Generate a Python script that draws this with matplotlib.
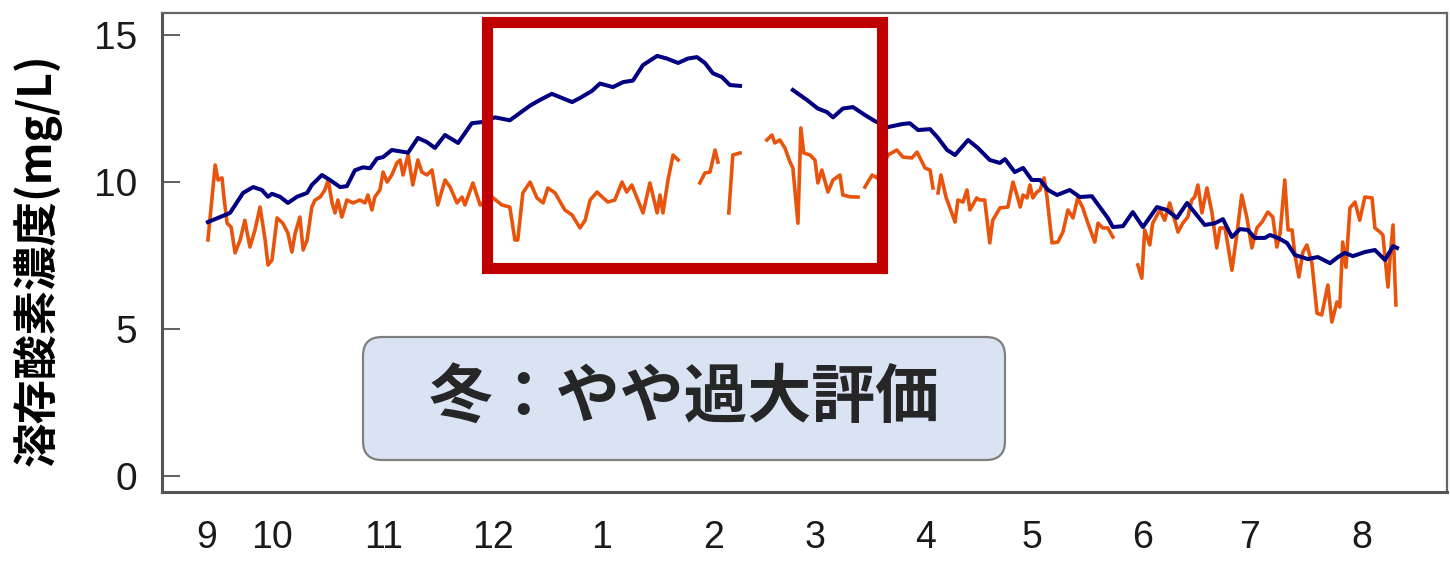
import numpy as np
import matplotlib
matplotlib.use("Agg")
import matplotlib.pyplot as plt
from matplotlib.patches import Rectangle, FancyBboxPatch

plt.rcParams['font.family'] = ['Liberation Sans', 'Noto Sans CJK JP', 'DejaVu Sans']

# days counted from 1 Sep; None marks a break in the record
blue_day = [12.3, 18.4, 22.0, 24.8, 27.2, 28.9, 30.0, 32.2, 34.4, 36.9, 39.7, 41.0, 43.8,
            46.0, 48.8, 50.7, 52.9, 55.1, 57.1, 59.0, 60.7, 63.1, 67.6, 70.3, 72.8, 75.0,
            77.8, 81.4, 85.2, 88.0, 91.6, 95.7, 101.3, 104.0, 107.3, 110.1, 112.9, 115.1,
            118.4, 120.6, 124.2, 127.0, 129.7, 132.5, 136.4, 139.1, 142.2, 144.9, 147.4,
            149.6, 151.8, 154.3, 156.5, 159.3, None,
            173.9, 177.8, 180.8, 183.3, 185.0, 187.7, 190.5, 193.8, 196.6, 200.2, 204.0,
            206.2, 208.5, 211.8, 214.0, 216.5, 218.7, 222.3, 225.0, 228.3, 231.1, 232.5,
            235.2, 237.5, 239.9, 242.2, 244.4, 246.9, 250.4, 253.2, 256.5, 258.7, 260.9,
            262.3, 265.1, 267.8, 270.6, 274.5, 277.2, 280.0, 282.8, 285.0, 287.7, 290.5,
            292.7, 295.2, 297.4, 299.6, 301.5, 304.3, 305.7, 307.9, 310.4, 312.6, 316.2,
            318.9, 322.3, 324.5, 326.4, 328.6, 331.9, 334.7, 337.5, 339.7, 340.8]
blue_do = [8.64, 8.95, 9.63, 9.83, 9.73, 9.5, 9.6, 9.5, 9.29, 9.5, 9.63, 9.9, 10.24,
           10.07, 9.83, 9.86, 10.4, 10.5, 10.47, 10.8, 10.85, 11.09, 11.0, 11.5, 11.36, 11.16,
           11.6, 11.33, 12.0, 12.04, 12.2, 12.1, 12.6, 12.79, 13.0, 12.86, 12.72, 12.86,
           13.1, 13.35, 13.23, 13.4, 13.45, 13.98, 14.29, 14.2, 14.05, 14.2, 14.25,
           14.05, 13.7, 13.57, 13.3, 13.27, None,
           13.13, 12.79, 12.5, 12.38, 12.2, 12.5, 12.55, 12.28, 12.07, 11.87, 11.97,
           12.0, 11.77, 11.8, 11.5, 11.09, 10.92, 11.43, 11.16, 10.75, 10.65, 10.78,
           10.34, 10.48, 10.07, 10.07, 9.73, 9.56, 9.73, 9.49, 9.52, 9.15, 8.78,
           8.47, 8.5, 8.98, 8.47, 9.15, 9.05, 8.78, 9.29, 8.95, 8.54, 8.6,
           8.74, 8.13, 8.4, 8.37, 8.1, 8.1, 8.2, 8.1, 7.93, 7.52, 7.38,
           7.45, 7.24, 7.45, 7.59, 7.48, 7.62, 7.69, 7.35, 7.82, 7.76]

orange_day = [12.3, 14.3, 15.1, 16.2, 16.7, 17.6, 18.7, 19.8, 21.2, 22.5, 23.9, 25.3, 26.7,
              28.1, 28.9, 30.0, 31.4, 33.0, 34.4, 35.5, 36.4, 37.7, 38.6, 39.7, 41.0, 41.9,
              43.3, 44.6, 45.5, 46.6, 47.4, 48.2, 49.3, 50.7, 52.4, 54.3, 55.7, 56.5, 57.6,
              58.4, 59.8, 60.7, 61.8, 63.1, 64.5, 65.4, 66.2, 67.6, 68.9, 70.3, 71.4, 72.8,
              74.2, 75.8, 77.8, 79.2, 81.1, 82.5, 83.3, 85.5, 87.5, 90.8, 93.5, 95.7, 97.1,
              97.9, 99.3, 101.3, 103.2, 104.9, 106.2, 108.2, 110.9, 112.9, 115.1, 116.5,
              117.9, 119.8, 121.5, 122.8, 124.7, 126.7, 128.0, 129.4, 132.5, 134.4, 136.4,
              137.2, 138.0, 139.4, 140.8, 142.2, None,
              148.2, 149.6, 151.0, 152.4, 153.2, None,
              156.2, 157.3, 159.3, None,
              166.7, 168.1, 168.9, 170.3, 171.7, 173.1, 173.9, 175.3, 176.1, 176.9, 178.6,
              180.0, 180.8, 181.9, 183.6, 185.0, 186.9, 187.7, 189.6, 191.9, None,
              193.8, 195.8, 197.1, 200.2, 202.6, 204.3, 206.8, 208.2, 210.4, 211.8, 212.6, None,
              214.0, 214.8, 216.2, 218.7, 219.5, 220.9, 222.0, 222.8, 224.7, 225.5, 226.9,
              228.3, 229.1, 231.1, 233.3, 234.7, 235.8, 236.7, 237.5, 238.6, 239.4, 240.2,
              241.3, 242.2, 243.3, 244.1, 245.5, 247.1, 248.5, 249.9, 251.3, 252.6, 254.0,
              255.4, 257.3, 258.2, 259.5, 260.9, 262.3, None,
              269.2, 270.3, 271.1, 272.5, 273.3, 275.3, 276.6, 278.0, 279.4, 280.3, 281.6,
              283.0, 284.1, 284.9, 285.8, 286.9, 288.3, 289.7, 291.0, 291.9, 293.3, 295.2,
              296.6, 297.9, 299.3, 300.7, 302.1, 303.5, 305.1, 306.5, 307.6, 308.5, 309.8,
              310.7, 311.8, 312.6, 313.7, 314.8, 315.9, 317.3, 318.7, 320.0, 321.7, 322.8,
              324.2, 325.0, 325.8, 326.7, 327.8, 329.2, 330.5, 331.9, 333.9, 334.7, 336.1,
              336.9, 338.3, 338.9, 339.7, 340.2, 340.5]
orange_do = [8.03, 10.58, 10.07, 10.14, 9.5, 8.6, 8.47, 7.59, 8.03, 8.7, 7.79, 8.37, 9.15,
             8.03, 7.18, 7.35, 8.78, 8.6, 8.26, 7.62, 8.26, 8.81, 7.69, 8.03, 9.15, 9.39,
             9.49, 9.73, 10.07, 9.29, 8.95, 9.39, 8.81, 9.39, 9.29, 9.39, 9.29, 9.56, 9.05,
             9.49, 9.73, 10.34, 10.0, 10.24, 10.65, 10.75, 10.24, 10.92, 9.9, 10.75, 10.34, 10.24,
             10.41, 9.22, 10.07, 9.83, 9.29, 9.49, 9.22, 9.97, 9.22, 9.49, 9.22, 9.15, 8.03,
             8.03, 9.63, 10.0, 9.46, 9.29, 9.8, 9.63, 9.05, 8.88, 8.44, 8.7,
             9.39, 9.66, 9.46, 9.32, 9.39, 10.0, 9.66, 9.9, 8.95, 9.97, 8.95,
             9.56, 8.95, 10.07, 10.92, 10.75, None,
             9.97, 10.31, 10.34, 11.09, 10.68, None,
             8.95, 10.92, 10.99, None,
             11.43, 11.6, 11.33, 11.43, 11.16, 10.68, 10.48, 8.6, 11.84, 10.99, 10.92,
             10.75, 9.97, 10.41, 9.66, 10.07, 10.24, 9.56, 9.5, 9.49, None,
             9.83, 10.24, 10.14, 10.92, 11.09, 10.85, 10.82, 11.02, 10.48, 10.41, 9.8, None,
             9.63, 10.24, 9.49, 8.64, 9.39, 9.32, 9.73, 9.05, 9.46, 9.39, 9.39,
             7.93, 8.7, 9.12, 9.15, 10.0, 9.56, 9.15, 9.56, 9.46, 9.9, 9.46,
             9.66, 9.73, 10.14, 9.49, 7.93, 7.96, 8.3, 9.05, 8.78, 9.46, 9.12,
             8.6, 7.96, 8.6, 8.44, 8.44, 8.13, None,
             7.18, 6.73, 8.37, 7.86, 8.6, 9.05, 8.7, 9.29, 8.7, 8.3, 8.6,
             8.81, 9.39, 9.49, 9.9, 8.95, 9.8, 8.95, 7.76, 8.44, 8.44, 7.0,
             8.26, 9.56, 8.81, 7.76, 8.44, 8.64, 8.98, 8.81, 7.79, 8.26, 10.07,
             8.37, 8.37, 7.52, 6.77, 7.62, 7.86, 7.24, 5.54, 5.48, 6.5, 5.24,
             5.92, 5.75, 7.96, 7.1, 9.12, 9.32, 8.7, 9.49, 9.46, 8.44, 8.3,
             8.2, 6.43, 7.45, 8.54, 6.77, 5.82]

month_pos = [12, 30, 60.7, 91, 121, 152, 180, 210.5, 240, 270.5, 300, 331]
month_labels = ['9', '10', '11', '12', '1', '2', '3', '4', '5', '6', '7', '8']
y_ticks = [0, 5, 10, 15]

fig = plt.figure(figsize=(14.5, 5.62), dpi=100)
ax = fig.add_axes([0.1117, 0.1246, 0.8862, 0.8523])

ax.plot(np.array(orange_day, dtype=float), np.array(orange_do, dtype=float),
        color='#E9540D', lw=2.6, zorder=2)
ax.plot(np.array(blue_day, dtype=float), np.array(blue_do, dtype=float),
        color='#000080', lw=2.9, zorder=3)

ax.set_xlim(-0.4, 354.6)
ax.set_ylim(-0.54, 15.75)
ax.set_xticks(month_pos)
ax.set_xticklabels(month_labels)
ax.set_yticks(y_ticks)
ax.tick_params(axis='x', length=0, pad=20, labelsize=27, labelcolor='#1a1a1a')
ax.tick_params(axis='y', direction='in', length=13, width=1.3, color='#555555',
               pad=18, labelsize=28, labelcolor='#1a1a1a')
for side in ['left', 'bottom']:
    ax.spines[side].set_color('#555555')
    ax.spines[side].set_linewidth(2.2)
for side in ['top', 'right']:
    ax.spines[side].set_color('#666666')
    ax.spines[side].set_linewidth(1.6)

ax.set_ylabel('溶存酸素濃度(mg/L)', fontsize=32, fontweight='bold',
              family=['Noto Sans CJK JP', 'DejaVu Sans'], labelpad=0)
ax.yaxis.set_label_coords(-0.078, 0.484)

# highlighted winter period
fig.patches.append(Rectangle((0.3362, 0.5231), 0.2724, 0.4378, transform=fig.transFigure,
                             fill=False, edgecolor='#C00000', lw=8, joinstyle='miter',
                             zorder=5))

# comment box
W, H = 1450, 562
box = FancyBboxPatch((363 / W, (H - 460) / H), 642 / W, 123 / H,
                     boxstyle='round,pad=0,rounding_size=0.013',
                     mutation_aspect=W / H, transform=fig.transFigure,
                     facecolor='#DAE3F3', edgecolor='#7f7f7f', lw=1.6, zorder=5)
fig.patches.append(box)
fig.text(684 / W, (H - 398) / H, '冬：やや過大評価', ha='center', va='center',
         fontsize=46, fontweight='bold', color='#262626',
         family=['Noto Sans CJK JP', 'DejaVu Sans'], zorder=6)

fig.savefig('out.png', dpi=100)
